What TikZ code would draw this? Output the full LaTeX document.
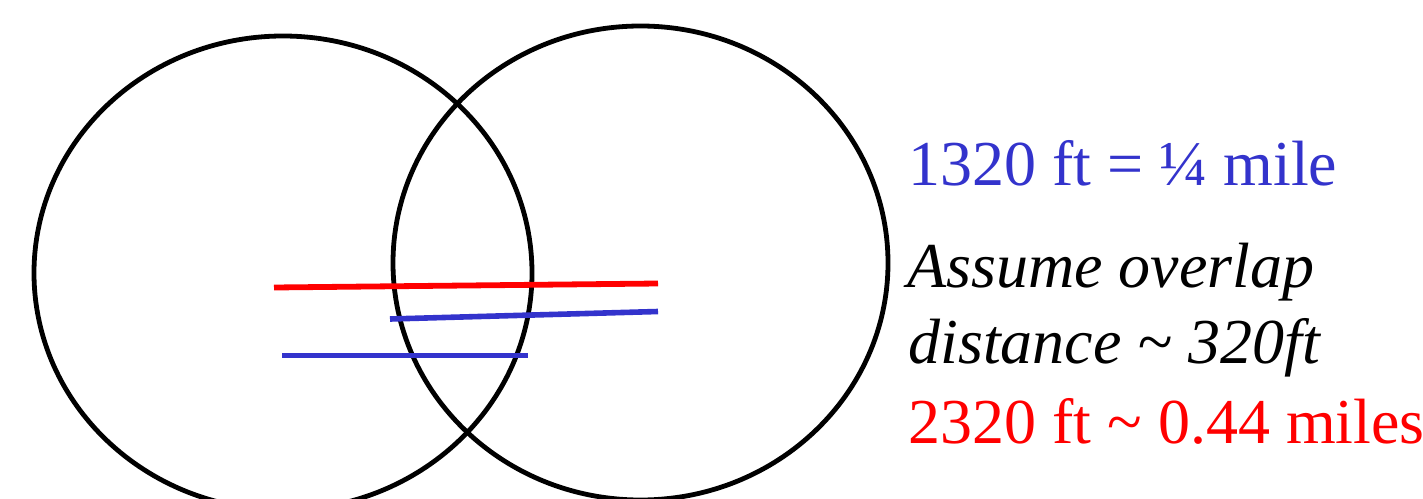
\documentclass[tikz,border=0pt]{standalone}
\usepackage{fontspec}
\setmainfont{Liberation Serif}
\definecolor{myblue}{RGB}{51,51,204}
\definecolor{myred}{RGB}{255,0,0}
\begin{document}
\begin{tikzpicture}[x=0.5pt,y=-0.5pt,
  ring/.style={draw=black,line width=2.4pt},
  redline/.style={draw=myred,line width=2.9pt},
  blueline/.style={draw=myblue,line width=2.8pt},
  lbl/.style={anchor=base west,inner sep=0pt,font=\fontsize{32}{38}\selectfont}]
\useasboundingbox (0,0) rectangle (1423,498);
\clip (0,0) rectangle (1423,498);
\draw[ring] (283,273) ellipse [x radius=249, y radius=237];
\draw[ring] (640.5,263) ellipse [x radius=247.5, y radius=237];
\coordinate (r1) at (274,287.5);
\coordinate (r2) at (658,283.5);
\coordinate (b1) at (390,319);
\coordinate (b2) at (658,311.5);
\coordinate (c1) at (282,355.5);
\coordinate (c2) at (528,355.5);
\draw[redline] (r1) -- (r2);
\draw[blueline] (b1) -- (b2);
\draw[blueline] (c1) -- (c2);
\node[lbl,text=myblue] (t1) at (908,185) {1320 ft = ¼ mile};
\node[lbl,font=\fontsize{32}{38}\selectfont\itshape] (t2) at (907,287) {Assume overlap};
\node[lbl,font=\fontsize{32}{38}\selectfont\itshape] (t3) at (908,363) {distance \textasciitilde{} 320ft};
\node[lbl,text=myred] (t4) at (908,443) {2320 ft \textasciitilde{} 0.44 miles};
\end{tikzpicture}
\end{document}
